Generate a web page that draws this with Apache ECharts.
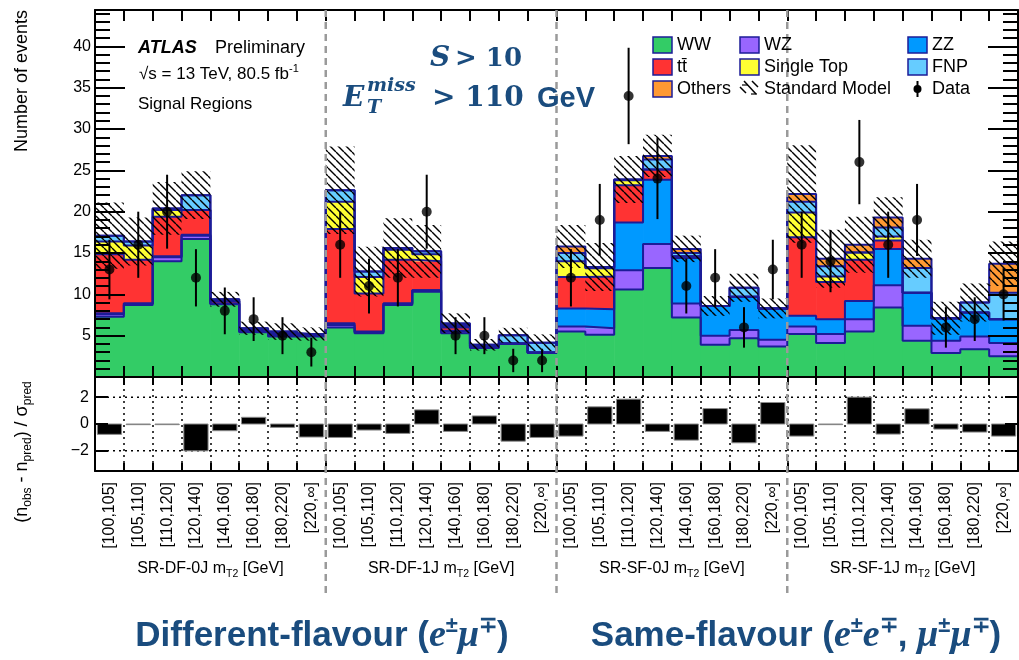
<!DOCTYPE html>
<html>
<head>
<meta charset="utf-8">
<script src="https://cdn.jsdelivr.net/npm/echarts@6/dist/echarts.min.js"></script>
<style>
  html, body { margin: 0; padding: 0; background: #ffffff; }
  #chart { width: 1019px; height: 660px; }
</style>
</head>
<body>
<div id="chart"></div>
<script>
// mT2 bin labels (repeated for every signal region) and region names
const binLabels = ['[100,105]', '[105,110]', '[110,120]', '[120,140]', '[140,160]', '[160,180]', '[180,220]', '[220,∞]'];
const regionNames = ['SR-DF-0J', 'SR-DF-1J', 'SR-SF-0J', 'SR-SF-1J'];

// axis tick values
const yMajorTicks = [0, 5, 10, 15, 20, 25, 30, 35, 40];
const yTickLabels = [5, 10, 15, 20, 25, 30, 35, 40];
const ratioTicks = [-2, 0, 2];

// expected yields per bin (32 bins = 4 regions x 8 mT2 bins)
const wwYield  = [7.3, 8.7, 14.0, 16.7, 8.8, 5.4, 4.9, 4.9,   6.0, 5.3, 8.7, 10.3, 5.3, 3.5, 4.0, 2.9,   5.5, 5.1, 10.6, 13.2, 7.2, 3.9, 4.7, 3.7,   5.2, 4.1, 5.5, 8.4, 4.4, 2.9, 3.35, 2.5];
const wzYield  = [0.3, 0.2, 0.5, 0.4, 0.1, 0.1, 0.1, 0.1,     0.3, 0.1, 0.2, 0.2, 0.2, 0.1, 0.05, 0.05,  0.6, 0.8, 2.3, 2.9, 1.7, 1.1, 1.0, 0.8,      0.9, 1.1, 1.5, 2.7, 1.8, 1.5, 1.55, 1.6];
const zzYield  = [0.1, 0.0, 0.1, 0.1, 0.0, 0.1, 0.1, 0.0,     0.2, 0.1, 0.0, 0.0, 0.1, 0.0, 0.0, 0.0,    2.2, 2.3, 5.8, 7.75, 5.5, 3.6, 4.0, 3.8,     1.3, 1.8, 2.2, 4.4, 4.0, 2.7, 2.9, 2.9];
const ttYield  = [7.15, 5.3, 4.8, 3.0, 0.3, 0.2, 0.2, 0.1,    11.4, 4.6, 5.3, 3.5, 0.4, 0.1, 0.0, 0.0,   3.8, 3.95, 4.5, 1.25, 0.2, 0.0, 0.0, 0.0,    9.5, 4.5, 5.0, 1.0, 0.0, 0.0, 0.0, 0.0];
const stYield  = [1.55, 1.7, 0.8, 0.0, 0.0, 0.0, 0.0, 0.0,    3.3, 2.0, 1.2, 0.85, 0.1, 0.0, 0.0, 0.0,   1.9, 1.0, 0.6, 0.0, 0.0, 0.0, 0.0, 0.0,      3.0, 0.65, 0.85, 0.5, 0.0, 0.0, 0.0, 0.0];
const fnpYield = [0.7, 0.5, 0.2, 1.8, 0.2, 0.1, 0.2, 0.1,     1.4, 0.65, 0.2, 0.35, 0.2, 0.2, 1.0, 1.2,  1.0, 0.1, 0.1, 1.2, 0.4, 0.0, 1.1, 0.0,      1.3, 1.25, 0.0, 1.1, 3.0, 0.0, 1.2, 3.2];
const othYield = [0.0, 0.0, 0.0, 0.0, 0.0, 0.0, 0.0, 0.0,     0.0, 0.0, 0.0, 0.0, 0.2, 0.0, 0.0, 0.0,    0.8, 0.05, 0.0, 0.45, 0.5, 0.0, 0.0, 0.0,    0.95, 0.9, 0.95, 1.2, 1.1, 0.0, 0.0, 3.5];

// total SM uncertainty, observed counts and significance per bin
const totalUnc = [4.0, 2.9, 3.2, 2.9, 0.9, 0.8, 1.0, 0.8,   5.3, 3.0, 3.6, 3.2, 1.2, 0.7, 0.9, 1.0,   2.6, 2.9, 2.85, 2.55, 1.6, 1.2, 1.7, 1.2,   5.9, 3.5, 3.4, 2.45, 2.3, 2.0, 2.3, 2.7];
const observed = [13, 16, 20, 12, 8, 7, 5, 3,   16, 11, 12, 20, 5, 5, 2, 2,   12, 19, 34, 24, 11, 12, 6, 13,   16, 14, 26, 16, 19, 6, 7, 10];
const significance = [-0.77, -0.05, -0.05, -2.0, -0.5, 0.5, -0.25, -0.97,   -1.0, -0.45, -0.7, 1.05, -0.55, 0.6, -1.28, -1.0,   -0.9, 1.28, 1.85, -0.55, -1.2, 1.15, -1.4, 1.6,   -0.9, -0.05, 2.0, -0.75, 1.13, -0.38, -0.6, -0.9];

// process names and fill colours, in stacking order (bottom first)
const processNames = ['WW', 'WZ', 'ZZ', 'tt̄', 'Single Top', 'FNP', 'Others'];
const processYields = [wwYield, wzYield, zzYield, ttYield, stYield, fnpYield, othYield];
const processColors = ['#33cc66', '#9966ff', '#0099ff', '#ff3333', '#ffff33', '#66ccff', '#ff9933'];

const NAVY = '#1c1c98';
const BLUE_TEXT = '#1a4c7e';
const SANS = "'Liberation Sans', Arial, Helvetica, sans-serif";
const SERIF = "'DejaVu Serif', 'Liberation Serif', serif";
const nBins = observed.length;
const binsPerRegion = binLabels.length;

// cumulative stack boundaries
const layers = [];
let base = new Array(nBins).fill(0);
processYields.forEach(v => {
  const top = base.map((b, i) => b + v[i]);
  layers.push({ lo: base, hi: top });
  base = top;
});
const totalPred = base;

// diagonal hatch tile for the SM uncertainty band
function hatchTile() {
  const s = 8;
  const c = document.createElement('canvas');
  c.width = s; c.height = s;
  const g = c.getContext('2d');
  g.strokeStyle = '#000';
  g.lineWidth = 1.4;
  g.beginPath();
  [-s, 0, s].forEach(o => { g.moveTo(o, 0); g.lineTo(o + s, s); });
  g.stroke();
  return c;
}
const hatch = { image: hatchTile(), repeat: 'repeat' };

function rectItem(api, x0, x1, y0, y1) {
  const a = api.coord([x0, y1]);
  const b = api.coord([x1, y0]);
  return { x: a[0], y: Math.min(a[1], b[1]), width: b[0] - a[0], height: Math.abs(b[1] - a[1]) };
}

const series = [];

// stacked process fills
layers.forEach((layer, k) => {
  series.push({
    type: 'custom', name: processNames[k], xAxisIndex: 0, yAxisIndex: 0, z: 2,
    data: layer.lo.map((lo, i) => [i, lo, layer.hi[i]]),
    encode: { x: 0, y: [1, 2] },
    renderItem: (params, api) => {
      const i = api.value(0);
      const r = rectItem(api, i, i + 1, api.value(1), api.value(2));
      r.width += 0.6;
      return { type: 'rect', shape: r, style: { fill: processColors[k] } };
    }
  });
});

// step outlines of each cumulative layer
layers.forEach(layer => {
  const pts = [];
  layer.hi.forEach((h, i) => { pts.push([i, h], [i + 1, h]); });
  series.push({
    type: 'line', xAxisIndex: 0, yAxisIndex: 0, z: 3, data: pts,
    symbol: 'none', silent: true,
    lineStyle: { color: NAVY, width: 2 }
  });
});

// hatched total uncertainty band
series.push({
  type: 'custom', name: 'Standard Model', xAxisIndex: 0, yAxisIndex: 0, z: 4,
  data: totalPred.map((t, i) => [i, Math.max(0, t - totalUnc[i]), t + totalUnc[i]]),
  encode: { x: 0, y: [1, 2] },
  renderItem: (params, api) => {
    const i = api.value(0);
    return { type: 'rect', shape: rectItem(api, i, i + 1, api.value(1), api.value(2)), style: { fill: hatch } };
  }
});

// data error bars (sqrt(n))
series.push({
  type: 'custom', name: 'Data errors', xAxisIndex: 0, yAxisIndex: 0, z: 5,
  data: observed.map((n, i) => [i + 0.5, Math.max(0, n - Math.sqrt(n)), n + Math.sqrt(n)]),
  encode: { x: 0, y: [1, 2] },
  renderItem: (params, api) => {
    const a = api.coord([api.value(0), api.value(1)]);
    const b = api.coord([api.value(0), api.value(2)]);
    return { type: 'line', shape: { x1: a[0], y1: a[1], x2: b[0], y2: b[1] }, style: { stroke: '#000', lineWidth: 2 } };
  }
});

// data points
series.push({
  type: 'scatter', name: 'Data', xAxisIndex: 0, yAxisIndex: 0, z: 6,
  data: observed.map((n, i) => [i + 0.5, n]),
  symbol: 'circle', symbolSize: 10,
  itemStyle: { color: '#000' }
});

// significance panel
series.push({
  type: 'custom', name: 'Significance', xAxisIndex: 2, yAxisIndex: 4, z: 3,
  data: significance.map((s, i) => [i, s]),
  encode: { x: 0, y: 1 },
  renderItem: (params, api) => {
    const i = api.value(0);
    return {
      type: 'rect',
      shape: rectItem(api, i + 0.08, i + 0.92, Math.min(0, api.value(1)), Math.max(0, api.value(1))),
      style: { fill: '#000', stroke: '#8a8a8a', lineWidth: 1 }
    };
  }
});
ratioTicks.filter(v => v !== 0).forEach(v => {
  series.push({
    type: 'line', xAxisIndex: 2, yAxisIndex: 4, z: 2, data: [[0, v], [nBins, v]],
    symbol: 'none', silent: true,
    lineStyle: { color: '#000', width: 1.5, type: [2, 4] }
  });
});

// minor tick positions on the event axis
const yMinorTicks = [];
for (let v = 1; v <= 44; v++) if (v % 5 !== 0) yMinorTicks.push(v);

const lineAxis = { show: true, onZero: false, lineStyle: { color: '#000', width: 2 } };
const hiddenLine = { show: false, onZero: false };
const noLabel = { show: false };
const noSplit = { show: false };

function binXAxis(grid, position, tickLen, extra) {
  return Object.assign({
    type: 'value', gridIndex: grid, position, min: 0, max: nBins, interval: 1, z: 10,
    axisLine: lineAxis,
    axisTick: { show: true, inside: true, length: tickLen, lineStyle: { color: '#000', width: 2 } },
    axisLabel: noLabel, splitLine: noSplit
  }, extra || {});
}
function eventYAxis(position, ticks, len, labels, showLine) {
  return {
    type: 'value', gridIndex: 0, position, min: 0, max: 44.4, z: 10,
    axisLine: showLine ? lineAxis : hiddenLine,
    axisTick: { show: true, inside: true, length: len, customValues: ticks, lineStyle: { color: '#000', width: 2 } },
    axisLabel: labels ? { show: true, customValues: yTickLabels, fontSize: 16, fontFamily: SANS, color: '#000', margin: 4 } : noLabel,
    splitLine: noSplit
  };
}
function ratioYAxis(position, labels) {
  return {
    type: 'value', gridIndex: 1, position, min: -3.5, max: 3.5, z: 10,
    axisLine: lineAxis,
    axisTick: { show: true, inside: true, length: 13, customValues: ratioTicks, lineStyle: { color: '#000', width: 2 } },
    axisLabel: labels ? {
      show: true, customValues: ratioTicks, fontSize: 16, fontFamily: SANS, color: '#000', margin: 6,
      formatter: v => (v < 0 ? '\u2212' + (-v) : String(v))
    } : noLabel,
    splitLine: noSplit
  };
}

const allBinLabels = [];
regionNames.forEach(() => binLabels.forEach(l => allBinLabels.push(l)));

const option = {
  animation: false,
  backgroundColor: '#ffffff',
  grid: [
    { left: 95, top: 10, width: 923, height: 367 },
    { left: 95, top: 377, width: 923, height: 94 }
  ],
  xAxis: [
    binXAxis(0, 'bottom', 11),
    binXAxis(0, 'top', 11),
    binXAxis(1, 'bottom', 8, { splitLine: { show: true, lineStyle: { color: '#000', width: 1.5, type: [2, 4] } } }),
    binXAxis(1, 'top', 8),
    {
      type: 'category', gridIndex: 1, position: 'bottom', data: allBinLabels, boundaryGap: true,
      axisLine: hiddenLine, axisTick: { show: false }, splitLine: noSplit,
      axisLabel: { show: true, interval: 0, rotate: 90, margin: 11, fontSize: 16, fontFamily: SANS, color: '#000' }
    }
  ],
  yAxis: [
    eventYAxis('left', yMajorTicks, 30, true, true),
    eventYAxis('left', yMinorTicks, 15, false, false),
    eventYAxis('right', yMajorTicks, 30, false, true),
    eventYAxis('right', yMinorTicks, 15, false, false),
    ratioYAxis('left', true),
    ratioYAxis('right', false)
  ],
  series
};

const chart = echarts.init(document.getElementById('chart'), null, { renderer: 'canvas' });
chart.setOption(option);

// ---- annotations, legend and region separators ----
const px = v => chart.convertToPixel({ xAxisIndex: 0 }, v);
const graphics = [];

function txt(x, y, text, font, extra) {
  return Object.assign({
    type: 'text', x, y, z: 100,
    style: Object.assign({ text, font, fill: '#000', align: 'left', verticalAlign: 'middle' }, (extra && extra.style) || {})
  }, extra && extra.rotation !== undefined ? { rotation: extra.rotation } : {});
}

// region separators
for (let r = 1; r < regionNames.length; r++) {
  const x = px(r * binsPerRegion);
  graphics.push({
    type: 'line', z: 90, shape: { x1: x, y1: 10, x2: x, y2: 598 },
    style: { stroke: '#9a9a9a', lineWidth: 2.5, lineDash: [7, 5] }
  });
}

// region axis titles
regionNames.forEach((name, r) => {
  const cx = px(r * binsPerRegion + binsPerRegion / 2);
  graphics.push({
    type: 'text', x: cx, y: 569, z: 100,
    style: {
      text: '{a|' + name + ' m}{s|T2}{a| [GeV]}', align: 'center', verticalAlign: 'middle',
      rich: {
        a: { fontSize: 16, fontFamily: SANS, fill: '#000', lineHeight: 22 },
        s: { fontSize: 10.5, fontFamily: SANS, fill: '#000', lineHeight: 11, verticalAlign: 'bottom' }
      }
    }
  });
});

// axis titles
graphics.push({
  type: 'text', x: 22, y: 10, rotation: Math.PI / 2, z: 100,
  style: { text: 'Number of events', font: '18px ' + SANS, fill: '#000', align: 'right', verticalAlign: 'middle' }
});
graphics.push({
  type: 'text', x: 22, y: 452, rotation: Math.PI / 2, z: 100,
  style: {
    text: '{a|(n}{s|obs}{a| - n}{s|pred}{a|) / σ}{s|pred}', align: 'center', verticalAlign: 'middle',
    rich: {
      a: { fontSize: 18, fontFamily: SANS, fill: '#000', lineHeight: 24 },
      s: { fontSize: 12, fontFamily: SANS, fill: '#000', lineHeight: 12, verticalAlign: 'bottom' }
    }
  }
});

// experiment label
graphics.push(txt(138, 48, 'ATLAS', 'italic bold 18px ' + SANS));
graphics.push(txt(215, 48, 'Preliminary', '18px ' + SANS));
graphics.push({
  type: 'text', x: 139, y: 74, z: 100,
  style: {
    text: '{a|√s = 13 TeV, 80.5 fb}{p|-1}', align: 'left', verticalAlign: 'middle',
    rich: {
      a: { fontSize: 17, fontFamily: SANS, fill: '#000', lineHeight: 22 },
      p: { fontSize: 11, fontFamily: SANS, fill: '#000', lineHeight: 11, verticalAlign: 'top' }
    }
  }
});
graphics.push(txt(138, 104, 'Signal Regions', '17px ' + SANS));

// selection cuts
const blue = { style: { fill: BLUE_TEXT } };
graphics.push(txt(430, 59, 'S', 'italic bold 28px ' + SERIF, blue));
graphics.push(txt(455, 59, '> 10', 'bold 26px ' + SERIF, blue));
graphics.push(txt(343, 99, 'E', 'italic bold 28px ' + SERIF, blue));
graphics.push(txt(367, 86, 'miss', 'italic bold 19px ' + SERIF, blue));
graphics.push(txt(367, 108, 'T', 'italic bold 19px ' + SERIF, blue));
graphics.push(txt(432, 99, '> 110', 'bold 28px ' + SERIF, blue));
graphics.push(txt(537, 99, 'GeV', 'bold 29px ' + SANS, blue));

// channel captions
const captionRich = {
  s: { fontSize: 35, fontWeight: 'bold', fontFamily: SANS, fill: BLUE_TEXT, lineHeight: 42 },
  m: { fontSize: 38, fontWeight: 'bold', fontStyle: 'italic', fontFamily: "'Liberation Serif', serif", fill: BLUE_TEXT, lineHeight: 42 },
  p: { fontSize: 22, fontWeight: 'bold', fontFamily: SANS, fill: BLUE_TEXT, lineHeight: 24, verticalAlign: 'top' }
};
graphics.push({
  type: 'text', x: 322, y: 636, z: 100,
  style: { text: '{s|Different-flavour (}{m|e}{p|±}{m|μ}{p|∓}{s|)}', align: 'center', verticalAlign: 'middle', rich: captionRich }
});
graphics.push({
  type: 'text', x: 796, y: 636, z: 100,
  style: { text: '{s|Same-flavour (}{m|e}{p|±}{m|e}{p|∓}{s|, }{m|μ}{p|±}{m|μ}{p|∓}{s|)}', align: 'center', verticalAlign: 'middle', rich: captionRich }
});

// legend
const legendCols = [653, 740, 908];
const legendRows = [45, 67, 89];
const legendLayout = [
  ['WW', 'WZ', 'ZZ'],
  ['tt̄', 'Single Top', 'FNP'],
  ['Others', 'Standard Model', 'Data']
];
legendLayout.forEach((row, ri) => {
  row.forEach((name, ci) => {
    const x = legendCols[ci], y = legendRows[ri];
    const k = processNames.indexOf(name);
    if (k >= 0) {
      graphics.push({
        type: 'rect', z: 100, shape: { x: x, y: y - 8, width: 19, height: 16 },
        style: { fill: processColors[k], stroke: NAVY, lineWidth: 1.5 }
      });
    } else if (name === 'Standard Model') {
      [[x + 4, y - 8, x + 16, y + 5], [x + 0, y - 2, x + 6, y + 4], [x + 12, y - 8, x + 18, y - 2]].forEach(s => {
        graphics.push({ type: 'line', z: 100, shape: { x1: s[0], y1: s[1], x2: s[2], y2: s[3] }, style: { stroke: '#000', lineWidth: 1.5 } });
      });
      graphics.push({ type: 'line', z: 100, shape: { x1: x + 2, y1: y - 4, x2: x + 8, y2: y - 4 }, style: { stroke: '#000', lineWidth: 1.2 } });
      graphics.push({ type: 'line', z: 100, shape: { x1: x + 11, y1: y + 5, x2: x + 17, y2: y + 5 }, style: { stroke: '#000', lineWidth: 1.2 } });
    } else {
      graphics.push({ type: 'line', z: 100, shape: { x1: x + 9.5, y1: y - 8, x2: x + 9.5, y2: y + 8 }, style: { stroke: '#000', lineWidth: 2 } });
      graphics.push({ type: 'circle', z: 100, shape: { cx: x + 9.5, cy: y, r: 4 }, style: { fill: '#000' } });
    }
    graphics.push(txt(x + 24, y, name, '18px ' + SANS));
  });
});

chart.setOption({ graphic: graphics });
</script>
</body>
</html>
